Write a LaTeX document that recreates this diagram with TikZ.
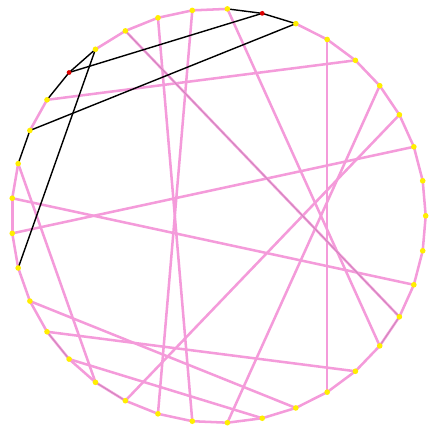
\documentclass[tikz,border=0pt]{standalone}
\usepackage{xcolor}
\usepackage{tikz}
\usetikzlibrary{calc}
\definecolor{chordPink}{HTML}{F49BDA}
\definecolor{chordDark}{HTML}{CF86BC}
\definecolor{dotYellow}{HTML}{FFEE00}
\definecolor{dotRed}{HTML}{DD0000}

\begin{document}
\begin{tikzpicture}[
    x=0.025cm, y=0.025cm,
    pinkline/.style={draw=chordPink, line width=1.8pt},
    thinline/.style={draw=chordDark, line width=0.6pt},
    blackline/.style={draw=black, line width=1pt},
    dot/.style={circle, fill=dotYellow, inner sep=0pt, minimum size=4pt},
    reddot/.style={dot, fill=dotRed, minimum size=3.4pt},
]
    \useasboundingbox (0,0) rectangle (430,427);
    \coordinate (o) at (218.6,211.2);
    \foreach \k in {0,...,36}
        \coordinate (p\k) at ($(o)+({\k*360/37}:207.1)$);
    \foreach \k [evaluate=\k as \n using {int(mod(\k+1,37))}] in {0,...,6,9,10,11,12,15,17,18,...,36}
        \draw[pinkline] (p\k) -- (p\n);
    \foreach \a/\b in {11/27, 10/26, 15/5, 18/35, 19/2, 17/24, 21/30, 22/32, 23/29, 25/3, 28/4, 9/33, 6/31, 12/34}
        \draw[pinkline] (p\a) -- (p\b);
    \foreach \a/\b in {22/23, 24/25, 33/34, 12/34}
        \draw[thinline] (p\a) -- (p\b);
    \foreach \a/\b in {7/8, 8/9, 13/14, 14/15, 16/17, 14/8, 13/20, 16/7}
        \draw[blackline] (p\a) -- (p\b);
    \foreach \k in {0,...,7,9,10,...,13,15,16,...,36}
        \node[dot] (d\k) at (p\k) {};
    \node[reddot] (d8) at (p8) {};
    \node[reddot] (d14) at (p14) {};
\end{tikzpicture}
\end{document}
